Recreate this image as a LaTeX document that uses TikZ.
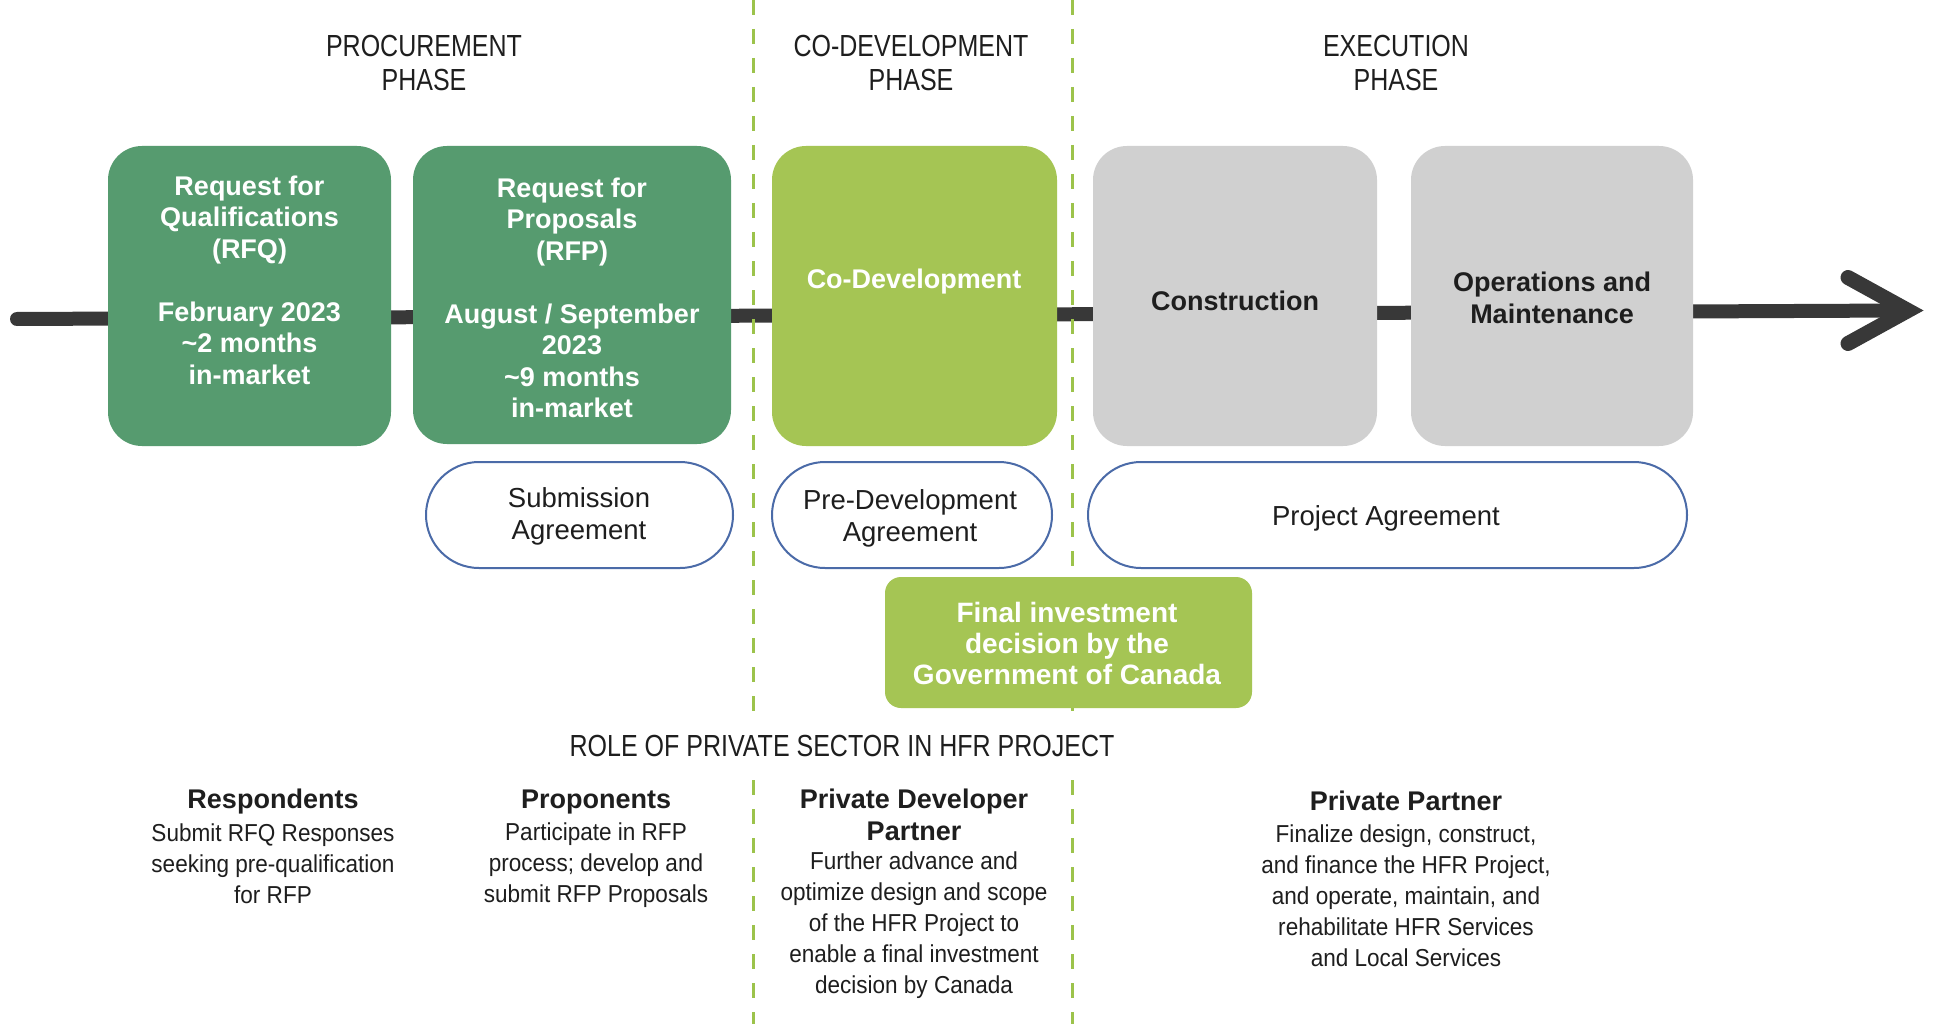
\documentclass[tikz,border=0pt]{standalone}
\usepackage{fontspec}
\setmainfont{Liberation Sans}
\newfontfamily\narrowf{Liberation Sans}[FakeStretch=0.82]
\newfontfamily\bodyf{Liberation Sans}[FakeStretch=0.92]
\usetikzlibrary{shapes.misc}
\definecolor{dkgreen}{HTML}{569B6F}
\definecolor{ltgreen}{HTML}{A5C554}
\definecolor{boxgray}{HTML}{D0D0D0}
\definecolor{tline}{HTML}{383838}
\definecolor{dashgreen}{HTML}{9CC34B}
\definecolor{ovalblue}{HTML}{4B6BA8}
\definecolor{txt}{HTML}{1E1E1E}
\begin{document}
\begin{tikzpicture}[x=1pt,y=-1pt,
  phbox/.style={rounded corners=34pt, inner sep=0pt, minimum height=300pt},
  boxtxt/.style={align=center, font=\fontsize{27}{31.5}\selectfont\bfseries, inner sep=0pt},
  ovalbox/.style={rounded rectangle, draw=ovalblue, line width=2pt, fill=white, inner sep=0pt, minimum height=106pt},
  ovaltxt/.style={align=center, font=\fontsize{27.5}{32}\selectfont, text=txt, inner sep=0pt},
  headtxt/.style={align=center, font=\narrowf\fontsize{30.5}{34}\selectfont, text=txt, inner sep=0pt},
  roletitle/.style={align=center, font=\fontsize{27}{32}\selectfont\bfseries, text=txt, inner sep=0pt},
  rolebody/.style={align=center, font=\bodyf\fontsize{24.5}{31}\selectfont, text=txt, inner sep=0pt},
  dashline/.style={draw=dashgreen, line width=3pt, dash pattern=on 15pt off 14pt},
  tl/.style={draw=tline, line cap=round}
]
\useasboundingbox (0,0) rectangle (1934,1024);
\fill[white] (0,0) rectangle (1934,1024);

% timeline
\coordinate (tlstart) at (17,319);
\coordinate (tlend) at (1905,310.5);
\coordinate (arrup) at (1848,277.5);
\coordinate (arrtip) at (1908,310.5);
\coordinate (arrdn) at (1848,343.5);
\draw[tl, line width=14pt] (tlstart) -- (tlend);
\draw[tl, line width=15pt, line join=miter] (arrup) -- (arrtip) -- (arrdn);

% dashed phase separators
\coordinate (d1a) at (753,0);
\coordinate (d1b) at (753,715);
\coordinate (d1c) at (753,780);
\coordinate (d1d) at (753,1024);
\coordinate (d2a) at (1072,0);
\coordinate (d2b) at (1072,715);
\coordinate (d2c) at (1072,780);
\coordinate (d2d) at (1072,1024);
\draw[dashline] (d1a) -- (d1b);
\draw[dashline] (d1c) -- (d1d);
\draw[dashline] (d2a) -- (d2b);
\draw[dashline] (d2c) -- (d2d);

% phase headings
\node[headtxt] (hproc) at (424,63) {PROCUREMENT\\PHASE};
\node[headtxt] (hcodev) at (911,63) {CO-DEVELOPMENT\\PHASE};
\node[headtxt] (hexec) at (1396,63) {EXECUTION\\PHASE};

% main boxes
\node[phbox, fill=dkgreen, minimum width=283pt] (rfq) at (249.5,296) {};
\node[phbox, fill=dkgreen, minimum width=318pt, minimum height=298pt] (rfp) at (572,295) {};
\node[phbox, fill=ltgreen, minimum width=285pt] (codev) at (914.5,296) {};
\node[phbox, fill=boxgray, minimum width=284pt] (constr) at (1235,296) {};
\node[phbox, fill=boxgray, minimum width=282pt] (om) at (1552,296) {};

\node[boxtxt, text=white] (rfqt) at (249.5,280) {Request for\\Qualifications\\(RFQ)\\[31.5pt]February 2023\\\textasciitilde2 months\\in-market};
\node[boxtxt, text=white] (rfpt) at (572,298) {Request for\\Proposals\\(RFP)\\[31.5pt]August / September\\2023\\\textasciitilde9 months\\in-market};
\node[boxtxt, text=white] (codevt) at (914,282) {Co-Development};
\node[boxtxt, text=txt] (constrt) at (1235,301) {Construction};
\node[boxtxt, text=txt] (omt) at (1552,298) {Operations and\\Maintenance};

% agreements
\node[ovalbox, minimum width=307pt] (subm) at (579.5,515) {};
\node[ovalbox, minimum width=280pt] (predev) at (912,515) {};
\node[ovalbox, minimum width=599pt] (proj) at (1387.5,515) {};
\node[ovaltxt] (submt) at (579,516) {Submission\\Agreement};
\node[ovaltxt] (predevt) at (910,518) {Pre-Development\\Agreement};
\node[ovaltxt] (projt) at (1386,518) {Project Agreement};

% final investment decision
\node[fill=ltgreen, rounded corners=16pt, minimum width=367pt, minimum height=131pt, inner sep=0pt] (fid) at (1068.5,642.5) {};
\node[boxtxt, text=white, font=\fontsize{28}{31}\selectfont\bfseries] (fidt) at (1067,643) {Final investment\\decision by the\\Government of Canada};

% role of private sector
\node[headtxt] (role) at (842,746) {ROLE OF PRIVATE SECTOR IN HFR PROJECT};

\node[roletitle] (resp) at (273,802) {Respondents};
\node[rolebody] (respb) at (273,864) {Submit RFQ Responses\\seeking pre-qualification\\for RFP};

\node[roletitle] (prop) at (596,802) {Proponents};
\node[rolebody] (propb) at (596,865) {Participate in RFP\\process; develop and\\submit RFP Proposals};

\node[roletitle] (pdp) at (914,815) {Private Developer\\Partner};
\node[rolebody] (pdpb) at (914,925) {Further advance and\\optimize design and scope\\of the HFR Project to\\enable a final investment\\decision by Canada};

\node[roletitle] (pp) at (1406,801) {Private Partner};
\node[rolebody] (ppb) at (1406,896) {Finalize design, construct,\\and finance the HFR Project,\\and operate, maintain, and\\rehabilitate HFR Services\\and Local Services};
\end{tikzpicture}
\end{document}
